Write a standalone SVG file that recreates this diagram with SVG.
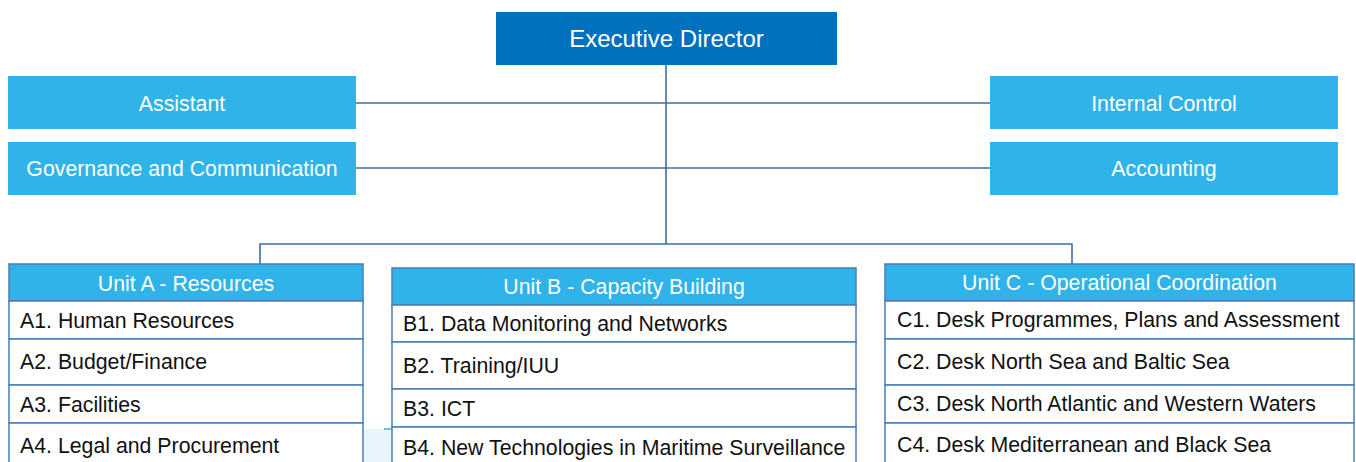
<svg xmlns="http://www.w3.org/2000/svg" width="1356" height="462" viewBox="0 0 1356 462">
<style>
text{font-family:"Liberation Sans",Arial,sans-serif}
.exec{fill:#0071BC}
.side{fill:#30B3E8}
.hdr{fill:#30B3E8;stroke:#4A7DB3;stroke-width:1.5}
.row{fill:#FFFFFF;stroke:#4A7DB3;stroke-width:1.5}
.wt{fill:#FFFFFF;text-anchor:middle}
.bt{fill:#111111;font-size:21.3px}
.ln{stroke:#3C6FA8;stroke-width:1.6;fill:none}
</style>
<rect x="364" y="429" width="27" height="40" fill="#E8F5FC"/>
<line x1="384" y1="429" x2="392" y2="429" stroke="#30B3E8" stroke-width="1.5"/>
<g id="connectors">
<path class="ln" d="M666 65V244"/>
<path class="ln" d="M356 103H990M356 168H990"/>
<path class="ln" d="M260 264V244H1072V264"/>
</g>
<g id="exec-director">
<rect class="exec" x="496" y="12" width="341" height="53"/>
<text class="wt" x="666.5" y="47" font-size="24">Executive Director</text>
</g>
<g id="assistant">
<rect class="side" x="8" y="76" width="348" height="53"/>
<text class="wt" x="182" y="111" font-size="21.3">Assistant</text>
</g>
<g id="governance">
<rect class="side" x="8" y="142" width="348" height="53"/>
<text class="wt" x="182" y="176" font-size="21.3">Governance and Communication</text>
</g>
<g id="internal-control">
<rect class="side" x="990" y="76" width="348" height="53"/>
<text class="wt" x="1164" y="111" font-size="21.3">Internal Control</text>
</g>
<g id="accounting">
<rect class="side" x="990" y="142" width="348" height="53"/>
<text class="wt" x="1164" y="176" font-size="21.3">Accounting</text>
</g>
<g id="unit-a">
<rect class="hdr" x="9" y="264" width="354" height="37"/>
<text class="wt" x="186" y="291" font-size="21.3">Unit A - Resources</text>
<rect class="row" x="9" y="301" width="354" height="38"/>
<text class="bt" x="20" y="328">A1. Human Resources</text>
<rect class="row" x="9" y="339" width="354" height="46"/>
<text class="bt" x="20" y="369">A2. Budget/Finance</text>
<rect class="row" x="9" y="385" width="354" height="38"/>
<text class="bt" x="20" y="412">A3. Facilities</text>
<rect class="row" x="9" y="423" width="354" height="50"/>
<text class="bt" x="20" y="453">A4. Legal and Procurement</text>
</g>
<g id="unit-b">
<rect class="hdr" x="392" y="268" width="464" height="37"/>
<text class="wt" x="624" y="294" font-size="21.3">Unit B - Capacity Building</text>
<rect class="row" x="392" y="305" width="464" height="37"/>
<text class="bt" x="403" y="331">B1. Data Monitoring and Networks</text>
<rect class="row" x="392" y="342" width="464" height="47"/>
<text class="bt" x="403" y="373">B2. Training/IUU</text>
<rect class="row" x="392" y="389" width="464" height="38"/>
<text class="bt" x="403" y="416">B3. ICT</text>
<rect class="row" x="392" y="427" width="464" height="46"/>
<text class="bt" x="403" y="455">B4. New Technologies in Maritime Surveillance</text>
</g>
<g id="unit-c">
<rect class="hdr" x="885" y="264" width="469" height="37"/>
<text class="wt" x="1119.5" y="290" font-size="21.3">Unit C - Operational Coordination</text>
<rect class="row" x="885" y="301" width="469" height="38"/>
<text class="bt" x="897" y="327">C1. Desk Programmes, Plans and Assessment</text>
<rect class="row" x="885" y="339" width="469" height="46"/>
<text class="bt" x="897" y="369">C2. Desk North Sea and Baltic Sea</text>
<rect class="row" x="885" y="385" width="469" height="38"/>
<text class="bt" x="897" y="411">C3. Desk North Atlantic and Western Waters</text>
<rect class="row" x="885" y="423" width="469" height="50"/>
<text class="bt" x="897" y="452">C4. Desk Mediterranean and Black Sea</text>
</g>
</svg>
